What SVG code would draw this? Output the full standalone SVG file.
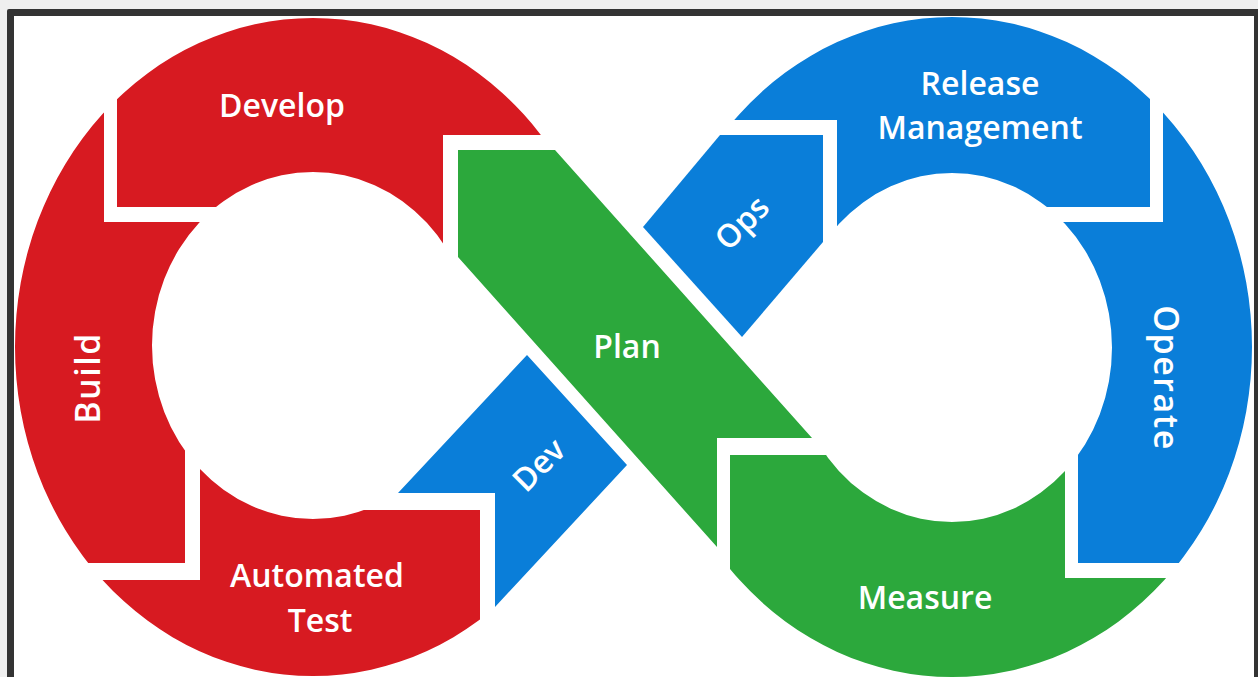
<svg xmlns="http://www.w3.org/2000/svg" width="1258" height="677" viewBox="0 0 1258 677">
<style>
.red{fill:#D71A21}
.green{fill:#2CA83C}
.blue{fill:#0A7ED9}
.t{font-family:"Open Sans","Liberation Sans",sans-serif;font-weight:600;font-size:32px;fill:#fff;text-anchor:middle}
.tr{font-size:34px;letter-spacing:1.5px}
</style>
<defs>
<path id="ringL" fill-rule="evenodd" d="M15,347 A298,329 0 1 0 611,347 A298,329 0 1 0 15,347 Z M152,345.5 A161,173.5 0 1 0 474,345.5 A161,173.5 0 1 0 152,345.5 Z"/>
<path id="ringR" fill-rule="evenodd" d="M652,347 A300,330 0 1 0 1252,347 A300,330 0 1 0 652,347 Z M792,347.5 A160,174.5 0 1 0 1112,347.5 A160,174.5 0 1 0 792,347.5 Z"/>
<clipPath id="cDevelop"><polygon points="117,0 620,0 620,135 443,135 443,346 313,346 313,207 117,207"/></clipPath>
<clipPath id="cBuild"><polygon points="0,0 104,0 104,222 260,222 260,346 185,346 185,563 0,563"/></clipPath>
<clipPath id="cAuto"><polygon points="0,580 200,580 200,346 313,346 313,510 480,510 480,700 0,700"/></clipPath>
<clipPath id="cRelease"><polygon points="700,0 1150,0 1150,207 952,207 952,347 837,347 837,120 700,120"/></clipPath>
<clipPath id="cOperate"><polygon points="1163,0 1300,0 1300,563 1078,563 1078,347 1000,347 1000,222 1163,222"/></clipPath>
<clipPath id="cMeasure"><polygon points="730,455 900,455 900,347 1065,347 1065,578 1300,578 1300,700 730,700"/></clipPath>
</defs>
<rect width="1258" height="677" fill="#efefef"/>
<rect x="7" y="9" width="1262" height="680" rx="2" fill="#333"/>
<rect x="14" y="16" width="1240" height="670" fill="#fff"/>

<g id="develop">
<use href="#ringL" class="red" clip-path="url(#cDevelop)"/>
<text class="t" x="282" y="117">Develop</text>
</g>
<g id="build">
<use href="#ringL" class="red" clip-path="url(#cBuild)"/>
<text class="t tr" transform="translate(100,378) rotate(-90)">Build</text>
</g>
<g id="automated-test">
<use href="#ringL" class="red" clip-path="url(#cAuto)"/>
<text class="t" x="317" y="587">Automated</text>
<text class="t" x="320" y="632">Test</text>
</g>
<g id="dev">
<polygon class="blue" points="398,493 495,493 495,607 627,465 527,355"/>
<text class="t" transform="translate(539,465) rotate(-45)" y="11">Dev</text>
</g>
<g id="plan">
<polygon class="green" points="458,150 555,150 812,438 717,438 717,547 458,257"/>
<text class="t" x="627" y="358">Plan</text>
</g>
<g id="ops">
<polygon class="blue" points="720,135 823,135 823,242 742,337 643,227"/>
<text class="t" transform="translate(742,223) rotate(-45)" y="11">Ops</text>
</g>
<g id="release-management">
<use href="#ringR" class="blue" clip-path="url(#cRelease)"/>
<text class="t" x="980" y="95">Release</text>
<text class="t" x="980" y="139">Management</text>
</g>
<g id="operate">
<use href="#ringR" class="blue" clip-path="url(#cOperate)"/>
<text class="t tr" transform="translate(1154,378) rotate(90)">Operate</text>
</g>
<g id="measure">
<use href="#ringR" class="green" clip-path="url(#cMeasure)"/>
<text class="t" x="925" y="609">Measure</text>
</g>
</svg>
